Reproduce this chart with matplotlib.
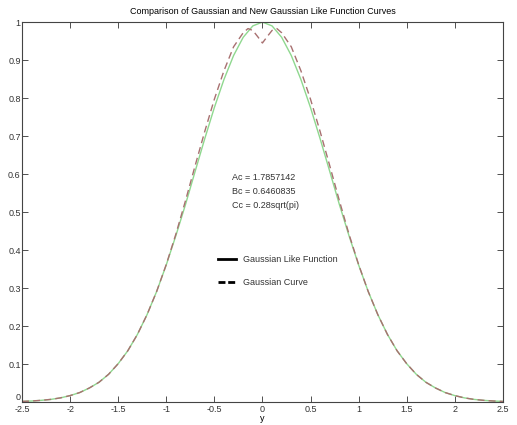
import matplotlib
matplotlib.use('Agg')
import matplotlib.pyplot as plt
import matplotlib.transforms as mtransforms
from matplotlib.lines import Line2D
import numpy as np

plt.rcParams['font.family'] = ['Liberation Sans Narrow', 'Liberation Sans', 'DejaVu Sans']

# значення (x від 0 до 2.5; криві симетричні)
x_half = [0.0, 0.1, 0.2, 0.3, 0.4, 0.5, 0.6, 0.7, 0.8, 0.9, 1.0, 1.1, 1.2,
          1.3, 1.4, 1.5, 1.6, 1.7, 1.8, 1.9, 2.0, 2.1, 2.2, 2.3, 2.4, 2.5]
like_half = [1.0, 0.990, 0.960, 0.912, 0.849, 0.775, 0.693, 0.607, 0.520,
             0.438, 0.361, 0.291, 0.230, 0.178, 0.135, 0.101, 0.073, 0.052,
             0.037, 0.025, 0.017, 0.011, 0.007, 0.0045, 0.0028, 0.0017]
gauss_x_half = [0.0, 0.05, 0.1, 0.15, 0.2, 0.3, 0.4, 0.5, 0.6, 0.7, 0.8, 0.9,
                1.0, 1.1, 1.2, 1.3, 1.4, 1.5, 1.6, 1.7, 1.8, 1.9, 2.0, 2.1,
                2.2, 2.3, 2.4, 2.5]
gauss_half = [0.945, 0.962, 0.978, 0.983, 0.972, 0.935, 0.872, 0.797, 0.712,
              0.622, 0.530, 0.442, 0.362, 0.291, 0.230, 0.178, 0.135, 0.101,
              0.073, 0.052, 0.037, 0.025, 0.017, 0.011, 0.007, 0.0045, 0.0028,
              0.0017]

x_like = np.concatenate([-np.array(x_half[::-1]), np.array(x_half[1:])])
y_like = np.concatenate([like_half[::-1], like_half[1:]])
x_gauss = np.concatenate([-np.array(gauss_x_half[::-1]), np.array(gauss_x_half[1:])])
y_gauss = np.concatenate([gauss_half[::-1], gauss_half[1:]])

params = ['Ac = 1.7857142', 'Bc = 0.6460835', 'Cc = 0.28sqrt(pi)']
legend_labels = ['Gaussian Like Function', 'Gaussian Curve']
xtick_labels = ['-2.5', '-2', '-1.5', '-1', '-0.5', '0', '0.5', '1', '1.5', '2', '2.5']
ytick_labels = ['0', '0.1', '0.2', '0.3', '0.4', '0.5', '0.6', '0.7', '0.8', '0.9', '1']

fig = plt.figure(figsize=(5.17, 4.25), dpi=100)
ax = fig.add_axes([0.0426, 0.054, 0.930, 0.894])

ax.plot(x_like, y_like, color='#8fd88f', linewidth=1.0)
ax.plot(x_gauss, y_gauss, color='#a87070', linewidth=1.0, linestyle=(0, (5, 3)))

ax.set_xlim(-2.5, 2.5)
ax.set_ylim(0, 1)
ax.set_xticks(np.arange(-2.5, 2.51, 0.5))
ax.set_xticklabels(xtick_labels)
ax.set_yticks(np.arange(0, 1.01, 0.1))
ax.set_yticklabels(ytick_labels)
ax.tick_params(direction='in', length=4, width=0.6, labelsize=6.5,
               top=True, right=True, pad=2, colors='#333333')
ax.tick_params(axis='y', pad=1)
for s in ax.spines.values():
    s.set_linewidth(0.8)
    s.set_color('#444444')

# нуль по осі y трохи вище, щоб не налазив на -2.5
lbl0 = ax.get_yticklabels()[0]
lbl0.set_transform(lbl0.get_transform() +
                   mtransforms.ScaledTranslation(0, 4 / 72, fig.dpi_scale_trans))

ax.set_xlabel('y', fontsize=6.5, labelpad=0)
ax.set_title('Comparison of Gaussian and New Gaussian Like Function Curves',
             fontsize=6.5, pad=6)

for i, t in enumerate(params):
    ax.text(-0.32, 0.59 - i * 0.036, t, fontsize=6.5, color='#333333', va='center')

handles = [Line2D([], [], color='black', linewidth=2.0),
           Line2D([], [], color='black', linewidth=2.0, linestyle=(0, (2.5, 1)))]
ax.legend(handles, legend_labels, loc='center left', bbox_to_anchor=(0.39, 0.345),
          frameon=False, fontsize=6.5, handlelength=2.0, labelspacing=1.5,
          handletextpad=0.8, labelcolor='#333333')

fig.savefig('out.png', dpi=100)
